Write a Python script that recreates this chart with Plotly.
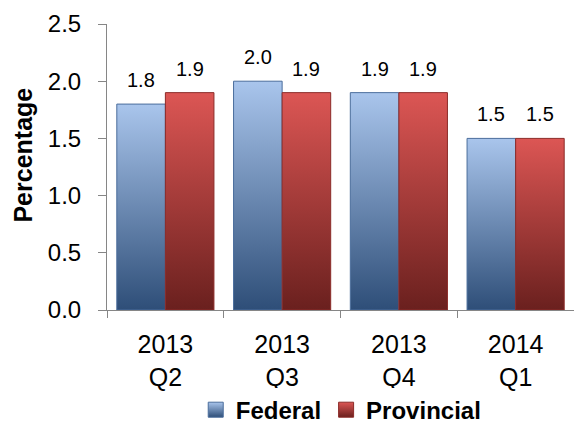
import plotly.graph_objects as go

categories = ["2013<br>Q2", "2013<br>Q3", "2013<br>Q4", "2014<br>Q1"]
federal = [1.8, 2.0, 1.9, 1.5]
provincial = [1.9, 1.9, 1.9, 1.5]
y_ticks = [0.0, 0.5, 1.0, 1.5, 2.0, 2.5]

FONT = "Liberation Sans, Arial, sans-serif"
W = 0.416

series = [
    dict(name="Federal", vals=federal, side=-1,
         dark="#2e4e78", light="#a9c5ec", line="#4a6d9c"),
    dict(name="Provincial", vals=provincial, side=1,
         dark="#6a201e", light="#dc5654", line="#8c2b28"),
]

fig = go.Figure()
for s in series:
    for i, v in enumerate(s["vals"]):
        x0 = i - W if s["side"] < 0 else i
        x1 = x0 + W
        fig.add_trace(go.Scatter(
            x=[x0, x1, x1, x0, x0], y=[0, 0, v, v, 0],
            mode="lines", fill="toself",
            fillgradient=dict(type="vertical",
                              colorscale=[[0, s["dark"]], [1, s["light"]]]),
            line=dict(color=s["line"], width=1),
            showlegend=False, hoverinfo="skip"))
        fig.add_annotation(
            x=i + s["side"] * W / 2, y=v, xref="x", yref="y",
            text=f"{v:.1f}", showarrow=False, yanchor="bottom", yshift=11,
            font=dict(family=FONT, size=20, color="#000000"))
    # legend entry
    fig.add_trace(go.Scatter(
        x=[None], y=[None], mode="markers", name=s["name"],
        marker=dict(symbol="square", size=15, color=s["light"],
                    gradient=dict(type="vertical", color=s["dark"]),
                    line=dict(color=s["line"], width=1))))

fig.add_annotation(
    text="<b>Percentage</b>", textangle=-90, showarrow=False,
    xref="paper", yref="paper", x=0, xshift=-84, y=0.54,
    xanchor="center", yanchor="middle",
    font=dict(family=FONT, size=25, color="#000000"))

fig.update_layout(
    width=574, height=427,
    margin=dict(l=107, r=0, t=24, b=117, autoexpand=False),
    paper_bgcolor="white", plot_bgcolor="white",
    font=dict(family=FONT, size=24, color="#000000"),
    showlegend=True,
    legend=dict(orientation="h", x=0.19, xanchor="left",
                y=-0.35, yanchor="middle",
                font=dict(family=FONT, size=24, color="#000000",
                          weight="bold"),
                itemwidth=30, tracegroupgap=0),
    xaxis=dict(range=[-0.5, 3.5], tickmode="array",
               tickvals=list(range(len(categories))), ticktext=categories,
               ticks="", showline=True, linecolor="#868686", linewidth=1,
               showgrid=False, zeroline=False, ticklabelstandoff=12,
               automargin=False,
               minor=dict(tickmode="linear", tick0=-0.5, dtick=1,
                          ticks="outside", ticklen=7, tickcolor="#868686",
                          showgrid=False),
               tickfont=dict(size=25)),
    yaxis=dict(range=[0, 2.5], tickmode="array", tickvals=y_ticks,
               tickformat=".1f", ticks="outside", ticklen=8,
               tickcolor="#868686", showline=True, linecolor="#868686",
               linewidth=1, showgrid=False, zeroline=False, automargin=False,
               ticklabelstandoff=12, tickfont=dict(size=24)),
)

fig.write_html("out.html")
